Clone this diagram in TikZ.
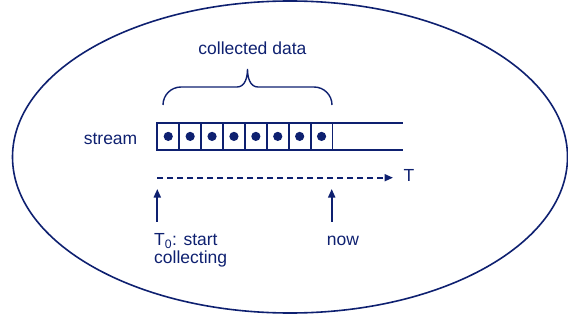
\documentclass[tikz,border=0pt]{standalone}
\usepackage{fontspec}
\setmainfont{Liberation Sans}
\usepackage{tikz}
\usetikzlibrary{
        arrows.meta,
        positioning
    }
\definecolor{navy}{RGB}{14,32,112}
\tikzset{>={Triangle[length=8.5pt,width=7pt]},x=1pt,y=1pt}
\tikzset{every node/.style={text=navy,inner sep=0pt,font=\fontsize{17.5}{17.5}\selectfont}}
\tikzset{cell/.style={draw=navy,line width=1.8pt,outer sep=0pt,
        minimum width=21.9pt,minimum height=27.3pt,
        path picture={\fill[navy] (path picture bounding box.center) circle (4.6pt);}}}
\tikzset{pointer/.style={->,draw=navy,line width=1.8pt}}

\begin{document}
\begin{tikzpicture}
                \useasboundingbox (0,0) rectangle (568,322);
                \draw[navy,line width=1.6pt] (290,165) ellipse (277.5 and 156);
                % stream cells
                \node[cell] (s1) at (168.25,185.6) {};
                \node[cell] (s2) [right=0pt of s1] {};
                \node[cell] (s3) [right=0pt of s2] {};
                \node[cell] (s4) [right=0pt of s3] {};
                \node[cell] (s5) [right=0pt of s4] {};
                \node[cell] (s6) [right=0pt of s5] {};
                \node[cell] (s7) [right=0pt of s6] {};
                \node[cell] (s8) [right=0pt of s7] {};
                \coordinate (stream end) at (403,185.6);
                \draw[navy,line width=1.8pt]
                    (s8.north east) -- (s8.north east -| stream end)
                    (s8.south east) -- (s8.south east -| stream end);
                \node[anchor=base east] (stream) at (137.5,178) {stream};
                % brace
                \coordinate (bl) at (163,217);
                \coordinate (br) at (332,217);
                \draw[navy,line width=1.4pt] (bl) to[out=90,in=180] ++(18,18) -- (237,235)
                    to[out=0,in=-90] (247.5,253) to[out=-90,in=180] (258,235)
                    -- (314,235) to[out=0,in=90] (br);
                \node[anchor=base] (collected) at (252.4,267) {collected data};
                % time axis
                \coordinate (tstart) at (157.3,144.3);
                \coordinate (tend) at (393,144.3);
                \node[anchor=base west] (T) at (403.3,140.3) {T};
                \draw[pointer,dash pattern=on 6pt off 4pt] (tstart) -- (tend);
                % markers
                \coordinate (startfoot) at (157.3,100.3);
                \coordinate (starttip) at (157.3,133);
                \coordinate (nowfoot) at (331.7,100.3);
                \coordinate (nowtip) at (331.7,133);
                \node[anchor=base west,align=left] (start) at (154,59) {T\textsubscript{0}: start\\collecting};
                \node[anchor=base west] (now) at (326.7,77) {now};
                \draw[pointer] (startfoot) -- (starttip);
                \draw[pointer] (nowfoot) -- (nowtip);
            \end{tikzpicture}
\end{document}
